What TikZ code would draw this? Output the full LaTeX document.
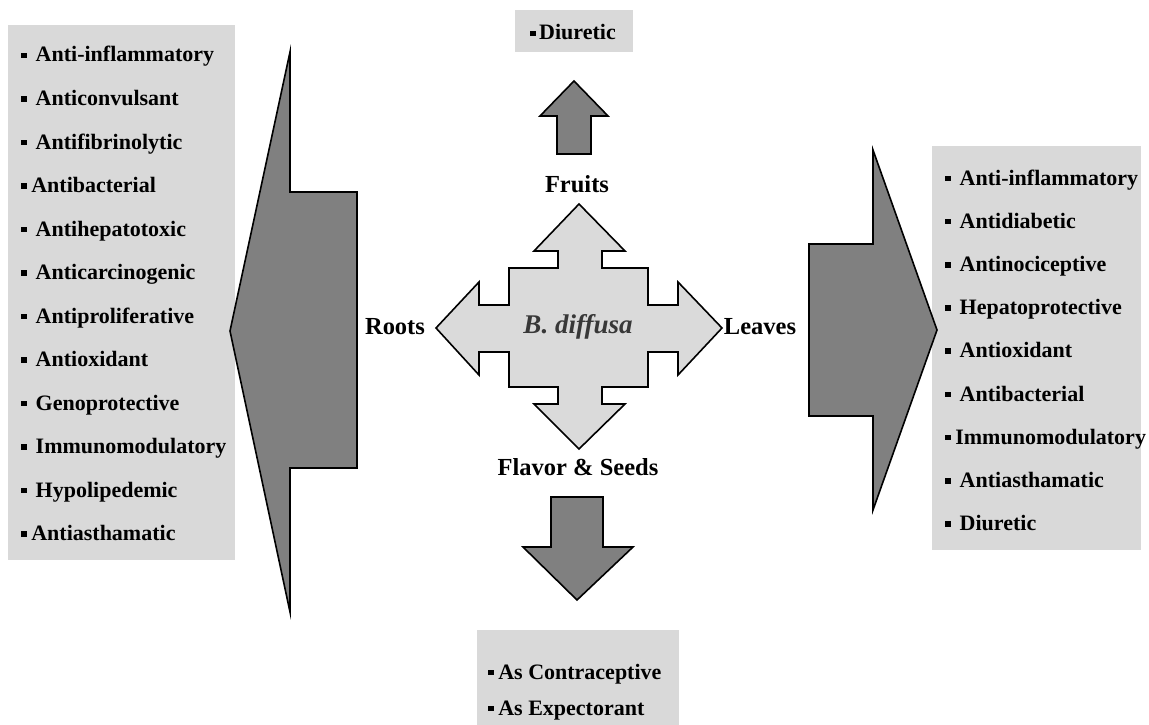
\documentclass[tikz,border=0pt]{standalone}
\usepackage{fontspec}
\setmainfont{Liberation Serif}
\definecolor{boxgray}{RGB}{217,217,217}
\definecolor{crossgray}{RGB}{218,218,218}
\definecolor{arrowgray}{RGB}{128,128,128}
\newcommand\bul{\rule[0.17em]{0.26em}{0.26em}}
\newcommand\bs{\bul\hspace{0.4em}}
\newcommand\bn{\bul\hspace{0.2em}}
\begin{document}
\begin{tikzpicture}[x=1pt,y=-1pt,
  box/.style={fill=boxgray,draw=none},
  darrow/.style={fill=arrowgray,draw=black,line width=1.6pt,line join=miter},
  cross/.style={fill=crossgray,draw=black,line width=1.6pt,line join=miter},
  item/.style={anchor=base west,inner sep=0pt,font=\fontsize{22}{26}\selectfont\bfseries},
  lab/.style={inner sep=0pt,font=\fontsize{24.5}{28}\selectfont\bfseries}]
\useasboundingbox (0,0) rectangle (1149,725);

% boxes
\path[box] (8,25) rectangle (235,560);
\path[box] (932,146) rectangle (1141,550);
\path[box] (515,10) rectangle (633,52);
\path[box] (477,630) rectangle (679,725);

% left big arrow
\draw[darrow] (230,331) -- (290,52) -- (290,192) -- (357,192) -- (357,468) -- (290,468) -- (290,612) -- cycle;
% right big arrow
\draw[darrow] (937,330) -- (873,510) -- (873,416) -- (809,416) -- (809,244) -- (873,244) -- (873,150) -- cycle;
% top small arrow
\draw[darrow] (574,81) -- (608,116) -- (591,116) -- (591,154) -- (557,154) -- (557,116) -- (540,116) -- cycle;
% bottom small arrow
\draw[darrow] (577,600) -- (633,547) -- (603,547) -- (603,497) -- (551,497) -- (551,547) -- (523,547) -- cycle;

% central cross
\draw[cross] (579,204) -- (625,251) -- (602,251) -- (602,268) -- (648,268) -- (648,305) -- (678,305) -- (678,282) -- (722,328) -- (678,375) -- (678,352) -- (648,352) -- (648,387) -- (602,387) -- (602,404) -- (625,404) -- (579,449) -- (534,404) -- (558,404) -- (558,387) -- (509,387) -- (509,352) -- (479,352) -- (479,375) -- (436,328) -- (479,282) -- (479,305) -- (509,305) -- (509,268) -- (558,268) -- (558,251) -- (534,251) -- cycle;

\node[inner sep=0pt,font=\fontsize{27}{30}\selectfont\bfseries\itshape,text=black!78] (bd) at (578,327) {B. diffusa};
\node[lab] (fruits) at (577,184) {Fruits};
\node[lab] (roots) at (395,327) {Roots};
\node[lab] (leaves) at (760,327) {Leaves};
\node[lab] (seeds) at (578,467) {Flavor \& Seeds};

% left list
\foreach [count=\i from 0] \t in {\bs Anti-inflammatory,\bs Anticonvulsant,\bs Antifibrinolytic,\bn Antibacterial,\bs Antihepatotoxic,\bs Anticarcinogenic,\bs Antiproliferative,\bs Antioxidant,\bs Genoprotective,\bs Immunomodulatory,\bs Hypolipedemic,\bn Antiasthamatic}
  \node[item] (l\i) at (21,{62+43.5*\i}) {\t};

% right list
\foreach [count=\i from 0] \t in {\bs Anti-inflammatory,\bs Antidiabetic,\bs Antinociceptive,\bs Hepatoprotective,\bs Antioxidant,\bs Antibacterial,\bn Immunomodulatory,\bs Antiasthamatic,\bs Diuretic}
  \node[item] (r\i) at (945,{185+43.2*\i}) {\t};

% top box
\node[item] (t1) at (530,40) {\bul\hspace{0.15em}Diuretic};
% bottom box
\node[item] (b1) at (488,679) {\bul\hspace{0.2em}As Contraceptive};
\node[item] (b2) at (488,715) {\bul\hspace{0.2em}As Expectorant};
\end{tikzpicture}
\end{document}
